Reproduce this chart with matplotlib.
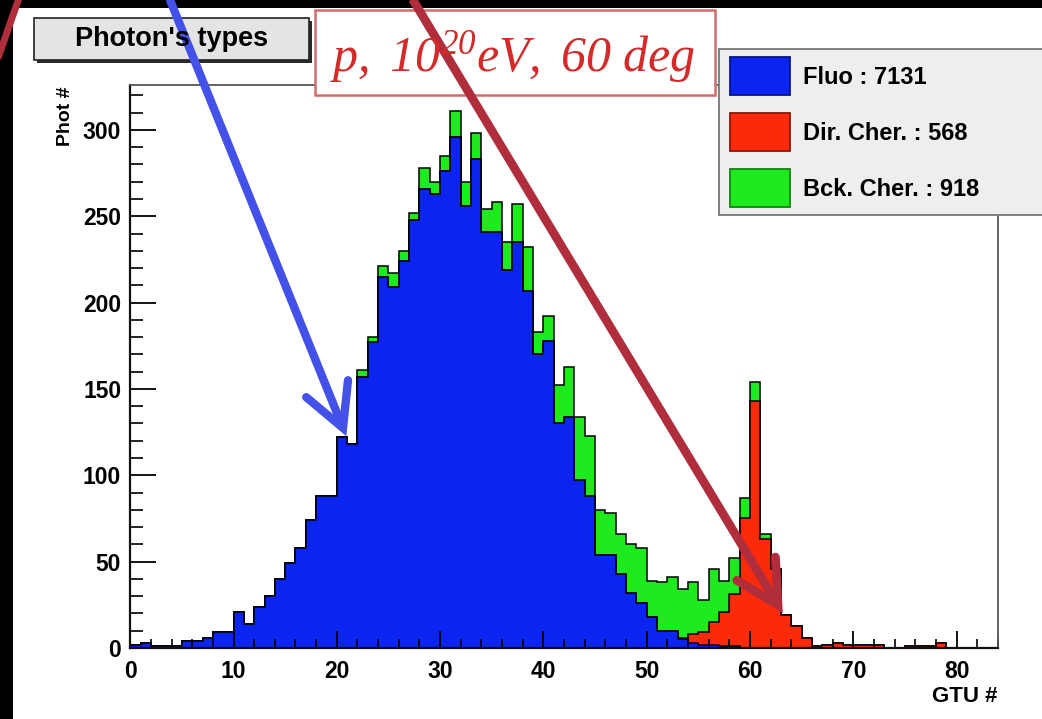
import numpy as np
import matplotlib
matplotlib.use("Agg")
import matplotlib.pyplot as plt
from matplotlib.patches import Rectangle
from matplotlib.lines import Line2D
from matplotlib.ticker import MultipleLocator
from matplotlib.colors import to_rgb

plt.rcParams["font.family"] = ["Liberation Sans", "DejaVu Sans"]
plt.rcParams["mathtext.fontset"] = "custom"
plt.rcParams["mathtext.it"] = "Liberation Serif:italic"
plt.rcParams["mathtext.rm"] = "Liberation Serif:italic"

# ---- data: photon counts per GTU bin (bins of width 1 from 0 to 84) ----
gtu_lo, gtu_hi = 0, 84

fluo = [2, 3, 1, 1, 1, 4, 4, 6, 9, 9,
        21, 14, 24, 30, 40, 49, 58, 74, 88, 88,
        122, 118, 157, 177, 215, 209, 224, 248, 266, 263,
        276, 296, 256, 283, 241, 241, 219, 235, 207, 170,
        178, 130, 134, 97, 88, 54, 54, 43, 32, 26,
        18, 10, 10, 5, 3, 2, 2, 1, 1, 0,
        0, 0, 0, 0, 0, 0, 0, 0, 0, 0,
        0, 0, 0, 0, 0, 0, 0, 0, 0, 0,
        0, 0, 0, 0]

dir_cher = [0, 0, 0, 0, 0, 0, 0, 0, 0, 0,
            0, 0, 0, 0, 0, 0, 0, 0, 0, 0,
            0, 0, 0, 0, 0, 0, 0, 0, 0, 0,
            0, 0, 0, 0, 0, 0, 0, 0, 0, 0,
            0, 0, 0, 0, 0, 0, 0, 0, 0, 0,
            0, 0, 0, 1, 5, 7, 13, 20, 30, 75,
            143, 63, 46, 19, 13, 6, 1, 2, 3, 2,
            2, 2, 2, 0, 0, 1, 1, 1, 3, 0,
            0, 0, 0, 0]

bck_cher = [0, 0, 0, 0, 0, 0, 0, 0, 0, 0,
            0, 0, 0, 0, 0, 0, 0, 0, 0, 0,
            0, 0, 4, 3, 6, 8, 6, 4, 12, 7,
            9, 15, 14, 15, 13, 17, 16, 22, 25, 13,
            14, 22, 29, 37, 35, 26, 24, 23, 28, 32,
            21, 28, 31, 28, 30, 19, 31, 18, 21, 12,
            11, 3, 0, 0, 0, 0, 0, 0, 0, 0,
            0, 0, 0, 0, 0, 0, 0, 0, 0, 0,
            0, 0, 0, 0]

component_names = ["Fluo", "Dir. Cher.", "Bck. Cher."]
component_totals = [7131, 568, 918]
component_colors = ["#0c24f0", "#fa2a0a", "#1eeb1e"]

x_ticks = [0, 10, 20, 30, 40, 50, 60, 70, 80]
y_ticks = [0, 50, 100, 150, 200, 250, 300]

title_text = "Photon's types"
info_text = r"$p,\ 10^{20}eV,\ 60\ deg$"
x_title = "GTU #"
y_title = "Phot #"

# ---- figure ----
W, H = 1042, 719
fig = plt.figure(figsize=(W / 100, H / 100), dpi=100)
fig.patch.set_facecolor("white")

ax_l, ax_r, ax_t, ax_b = 130.2, 998.0, 85.0, 648.0
ax = fig.add_axes([ax_l / W, 1 - ax_b / H, (ax_r - ax_l) / W, (ax_b - ax_t) / H])

edges = np.arange(gtu_lo, gtu_hi + 1)
layers = np.cumsum(np.array([fluo, dir_cher, bck_cher], dtype=float), axis=0)
for level, color in reversed(list(zip(layers, component_colors))):
    ax.stairs(level, edges, baseline=0, fill=True, color=color, linewidth=0)
    ax.stairs(level, edges, baseline=0, fill=False, color="black", linewidth=1.1)

ax.set_xlim(gtu_lo, gtu_hi)
ax.set_ylim(0, 326)
ax.set_xticks(x_ticks)
ax.set_yticks(y_ticks)
ax.xaxis.set_minor_locator(MultipleLocator(2))
ax.yaxis.set_minor_locator(MultipleLocator(10))
ax.tick_params(axis="both", which="both", direction="in", color="black",
               labelsize=16.5, top=False, right=False)
ax.tick_params(axis="y", which="major", length=18.5, width=1.3, pad=6.5)
ax.tick_params(axis="y", which="minor", length=9.5, width=1.2)
ax.tick_params(axis="x", which="major", length=12.5, width=1.3, pad=8.5)
ax.tick_params(axis="x", which="minor", length=6.5, width=1.2)
for lab in ax.get_xticklabels() + ax.get_yticklabels():
    lab.set_fontweight("bold")
for side in ("left", "bottom"):
    ax.spines[side].set_linewidth(1.6)
    ax.spines[side].set_color("#111111")
for side in ("top", "right"):
    ax.spines[side].set_linewidth(1.3)
    ax.spines[side].set_color("#555555")

# ---- overlay in pixel coordinates ----
ov = fig.add_axes([0, 0, 1, 1], zorder=5)
ov.set_xlim(0, W)
ov.set_ylim(H, 0)
ov.axis("off")
ov.patch.set_alpha(0)

# axis titles
ov.text(997, 697, x_title, ha="right", va="center", fontsize=16, fontweight="bold")
ov.text(66, 86, y_title, ha="center", va="top", rotation=90, fontsize=14, fontweight="bold")

# title pave with shadow
ov.add_patch(Rectangle((37, 21), 275, 42, facecolor="#2a2a2a", edgecolor="none"))
ov.add_patch(Rectangle((34, 18), 275, 42, facecolor="#e4e4e4", edgecolor="#222222", linewidth=1.2))
ov.text(171.5, 39, title_text, ha="center", va="center", fontsize=19.5, fontweight="bold")

# info box
ov.add_patch(Rectangle((315, 10), 400, 85, facecolor="white", edgecolor="#d46a6a", linewidth=1.8))
ov.text(513, 57, info_text, ha="center", va="center", fontsize=36, color="#d42a2a")

# legend
ov.add_patch(Rectangle((719, 49), 340, 166, facecolor="#eeeeee", edgecolor="#777777", linewidth=1.3))
for i, (name, total, color) in enumerate(zip(component_names, component_totals, component_colors)):
    yc = 76 + 56 * i
    dark = tuple(0.55 * c for c in to_rgb(color))
    ov.add_patch(Rectangle((730, yc - 19), 60, 38, facecolor=color, edgecolor=dark, linewidth=1.3))
    ov.text(803, yc + 2, f"{name} : {total}", ha="left", va="center", fontsize=17, fontweight="bold")


def arrow(p0, tip, color, lw, head_len=48, head_ang=28):
    p0, tip = np.asarray(p0, float), np.asarray(tip, float)
    ov.add_line(Line2D([p0[0], tip[0]], [p0[1], tip[1]], color=color, linewidth=lw,
                       solid_capstyle="butt"))
    back = (p0 - tip) / np.hypot(*(p0 - tip))
    arms = []
    for sgn in (-1, 1):
        a = np.deg2rad(sgn * head_ang)
        rot = np.array([[np.cos(a), -np.sin(a)], [np.sin(a), np.cos(a)]])
        arms.append(tip + head_len * rot @ back)
    ov.add_line(Line2D([arms[0][0], tip[0], arms[1][0]], [arms[0][1], tip[1], arms[1][1]],
                       color=color, linewidth=lw, solid_joinstyle="miter", solid_capstyle="round"))


arrow((168, -5), (343, 428), "#4351e8", 6)
arrow((410, -5), (778, 605), "#b02d3c", 6.3)

# dark frame edges of the screen capture
ov.add_patch(Rectangle((0, 0), W, 8, facecolor="black", edgecolor="none"))
ov.add_patch(Rectangle((0, 0), 13, H, facecolor="black", edgecolor="none"))
ov.add_line(Line2D([19, -2], [-2, 58], color="#b02d3c", linewidth=5))

fig.savefig("out.png", dpi=100, facecolor=fig.get_facecolor())
